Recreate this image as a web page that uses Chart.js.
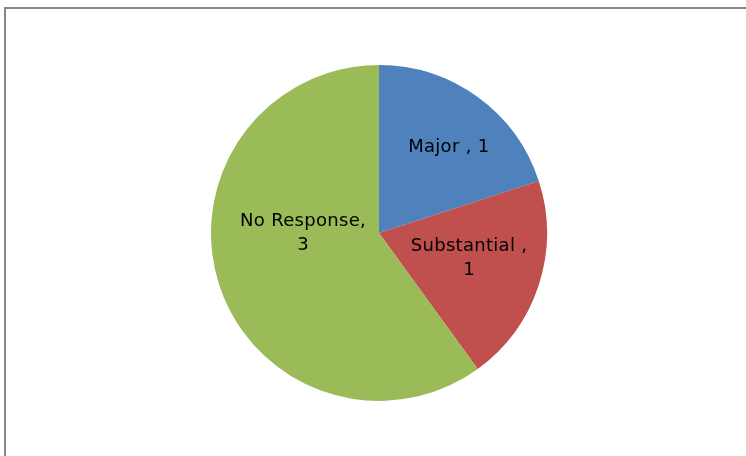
<!DOCTYPE html>
<html>
<head>
<meta charset="utf-8">
<script src="https://cdn.jsdelivr.net/npm/chart.js@4.4.0/dist/chart.umd.min.js"></script>
<style>
  html, body { margin: 0; padding: 0; background: #fff; }
  #wrap { position: relative; width: 746px; height: 456px; }
</style>
</head>
<body>
<div id="wrap"><canvas id="myChart" width="746" height="456"></canvas></div>
<script>
// категории и значения
const categories = ['Major', 'Substantial', 'No Response'];
const counts = [1, 1, 3];
const sliceColors = ['#4F81BD', '#C0504D', '#9BBB59'];

// где стоит подпись каждого сектора: угол от верха (по часовой) и доля радиуса
const labelSpots = [
    { angle: 39, dist: 0.66, lines: (c, v) => [c + ' , ' + v] },
    { angle: 105.5, dist: 0.556, lines: (c, v) => [c + ' ,', String(v)] },
    { angle: 270, dist: 0.452, lines: (c, v) => [c + ',', String(v)] }
];

// серая рамка вокруг области диаграммы (правый и нижний края за кадром)
const frame = {
    id: 'frame',
    beforeDraw(chart) {
        const ctx = chart.ctx;
        ctx.save();
        ctx.fillStyle = '#878787';
        ctx.fillRect(4, 7, 760, 2);
        ctx.fillRect(4, 7, 2, 470);
        ctx.restore();
    }
};

// подписи данных внутри секторов
const sliceLabels = {
    id: 'sliceLabels',
    afterDatasetsDraw(chart) {
        const ctx = chart.ctx;
        const arcs = chart.getDatasetMeta(0).data;
        ctx.save();
        ctx.font = '18px "DejaVu Sans", Verdana, sans-serif';
        ctx.letterSpacing = '0.3px';
        ctx.fillStyle = '#000';
        ctx.textAlign = 'center';
        ctx.textBaseline = 'middle';
        arcs.forEach((arc, i) => {
            const spot = labelSpots[i];
            const a = spot.angle * Math.PI / 180;
            const r = arc.outerRadius * spot.dist;
            const x = arc.x + r * Math.sin(a);
            const y = arc.y - r * Math.cos(a);
            const lines = spot.lines(categories[i], counts[i]);
            const lh = 24;
            lines.forEach((t, k) => {
                ctx.fillText(t, x, y + (k - (lines.length - 1) / 2) * lh);
            });
        });
        ctx.restore();
    }
};

const ctx = document.getElementById('myChart').getContext('2d');
new Chart(ctx, {
    type: 'pie',
    data: {
        labels: categories,
        datasets: [{
            data: counts,
            backgroundColor: sliceColors,
            borderWidth: 0
        }]
    },
    options: {
        responsive: false,
        animation: false,
        layout: { padding: { top: 65, bottom: 55, left: 211, right: 199 } },
        plugins: {
            legend: { display: false },
            tooltip: { enabled: false }
        }
    },
    plugins: [frame, sliceLabels]
});
</script>
</body>
</html>
